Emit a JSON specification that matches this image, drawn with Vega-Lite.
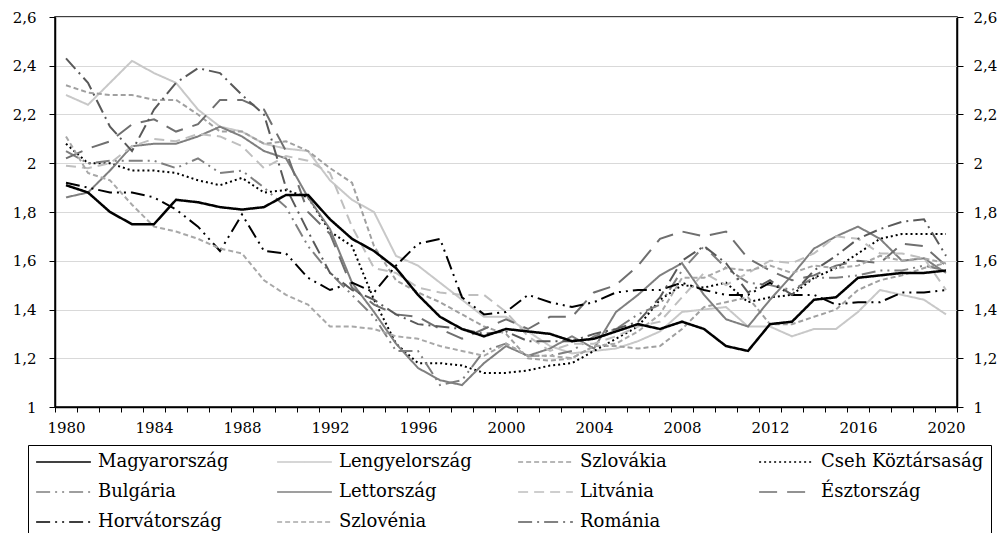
{
"$schema":"https://vega.github.io/schema/vega-lite/v6.json",
"width":902,"height":390,
"autosize":{"type":"none"},
"padding":{"left":55,"top":17,"right":47,"bottom":126},
"background":"#ffffff",
"config":{"view":{"stroke":"#000000","strokeWidth":1.5},"font":"DejaVu Serif"},
"data":{"values":[
{"country":"Magyarország","year":1980,"rate":1.91},{"country":"Magyarország","year":1981,"rate":1.88},{"country":"Magyarország","year":1982,"rate":1.80},{"country":"Magyarország","year":1983,"rate":1.75},{"country":"Magyarország","year":1984,"rate":1.75},{"country":"Magyarország","year":1985,"rate":1.85},{"country":"Magyarország","year":1986,"rate":1.84},{"country":"Magyarország","year":1987,"rate":1.82},{"country":"Magyarország","year":1988,"rate":1.81},{"country":"Magyarország","year":1989,"rate":1.82},
{"country":"Magyarország","year":1990,"rate":1.87},{"country":"Magyarország","year":1991,"rate":1.87},{"country":"Magyarország","year":1992,"rate":1.77},{"country":"Magyarország","year":1993,"rate":1.69},{"country":"Magyarország","year":1994,"rate":1.64},{"country":"Magyarország","year":1995,"rate":1.57},{"country":"Magyarország","year":1996,"rate":1.46},{"country":"Magyarország","year":1997,"rate":1.37},{"country":"Magyarország","year":1998,"rate":1.32},{"country":"Magyarország","year":1999,"rate":1.29},
{"country":"Magyarország","year":2000,"rate":1.32},{"country":"Magyarország","year":2001,"rate":1.31},{"country":"Magyarország","year":2002,"rate":1.30},{"country":"Magyarország","year":2003,"rate":1.27},{"country":"Magyarország","year":2004,"rate":1.28},{"country":"Magyarország","year":2005,"rate":1.31},{"country":"Magyarország","year":2006,"rate":1.34},{"country":"Magyarország","year":2007,"rate":1.32},{"country":"Magyarország","year":2008,"rate":1.35},{"country":"Magyarország","year":2009,"rate":1.32},
{"country":"Magyarország","year":2010,"rate":1.25},{"country":"Magyarország","year":2011,"rate":1.23},{"country":"Magyarország","year":2012,"rate":1.34},{"country":"Magyarország","year":2013,"rate":1.35},{"country":"Magyarország","year":2014,"rate":1.44},{"country":"Magyarország","year":2015,"rate":1.45},{"country":"Magyarország","year":2016,"rate":1.53},{"country":"Magyarország","year":2017,"rate":1.54},{"country":"Magyarország","year":2018,"rate":1.55},{"country":"Magyarország","year":2019,"rate":1.55},{"country":"Magyarország","year":2020,"rate":1.56},
{"country":"Lengyelország","year":1980,"rate":2.28},{"country":"Lengyelország","year":1981,"rate":2.24},{"country":"Lengyelország","year":1982,"rate":2.33},{"country":"Lengyelország","year":1983,"rate":2.42},{"country":"Lengyelország","year":1984,"rate":2.37},{"country":"Lengyelország","year":1985,"rate":2.33},{"country":"Lengyelország","year":1986,"rate":2.22},{"country":"Lengyelország","year":1987,"rate":2.15},{"country":"Lengyelország","year":1988,"rate":2.13},{"country":"Lengyelország","year":1989,"rate":2.08},
{"country":"Lengyelország","year":1990,"rate":2.06},{"country":"Lengyelország","year":1991,"rate":2.05},{"country":"Lengyelország","year":1992,"rate":1.93},{"country":"Lengyelország","year":1993,"rate":1.85},{"country":"Lengyelország","year":1994,"rate":1.80},{"country":"Lengyelország","year":1995,"rate":1.62},{"country":"Lengyelország","year":1996,"rate":1.58},{"country":"Lengyelország","year":1997,"rate":1.51},{"country":"Lengyelország","year":1998,"rate":1.44},{"country":"Lengyelország","year":1999,"rate":1.37},
{"country":"Lengyelország","year":2000,"rate":1.37},{"country":"Lengyelország","year":2001,"rate":1.31},{"country":"Lengyelország","year":2002,"rate":1.25},{"country":"Lengyelország","year":2003,"rate":1.22},{"country":"Lengyelország","year":2004,"rate":1.23},{"country":"Lengyelország","year":2005,"rate":1.24},{"country":"Lengyelország","year":2006,"rate":1.27},{"country":"Lengyelország","year":2007,"rate":1.31},{"country":"Lengyelország","year":2008,"rate":1.39},{"country":"Lengyelország","year":2009,"rate":1.40},
{"country":"Lengyelország","year":2010,"rate":1.41},{"country":"Lengyelország","year":2011,"rate":1.33},{"country":"Lengyelország","year":2012,"rate":1.33},{"country":"Lengyelország","year":2013,"rate":1.29},{"country":"Lengyelország","year":2014,"rate":1.32},{"country":"Lengyelország","year":2015,"rate":1.32},{"country":"Lengyelország","year":2016,"rate":1.39},{"country":"Lengyelország","year":2017,"rate":1.48},{"country":"Lengyelország","year":2018,"rate":1.46},{"country":"Lengyelország","year":2019,"rate":1.44},{"country":"Lengyelország","year":2020,"rate":1.38},
{"country":"Szlovákia","year":1980,"rate":2.32},{"country":"Szlovákia","year":1981,"rate":2.29},{"country":"Szlovákia","year":1982,"rate":2.28},{"country":"Szlovákia","year":1983,"rate":2.28},{"country":"Szlovákia","year":1984,"rate":2.26},{"country":"Szlovákia","year":1985,"rate":2.26},{"country":"Szlovákia","year":1986,"rate":2.20},{"country":"Szlovákia","year":1987,"rate":2.13},{"country":"Szlovákia","year":1988,"rate":2.13},{"country":"Szlovákia","year":1989,"rate":2.08},
{"country":"Szlovákia","year":1990,"rate":2.09},{"country":"Szlovákia","year":1991,"rate":2.05},{"country":"Szlovákia","year":1992,"rate":1.98},{"country":"Szlovákia","year":1993,"rate":1.92},{"country":"Szlovákia","year":1994,"rate":1.66},{"country":"Szlovákia","year":1995,"rate":1.52},{"country":"Szlovákia","year":1996,"rate":1.47},{"country":"Szlovákia","year":1997,"rate":1.43},{"country":"Szlovákia","year":1998,"rate":1.38},{"country":"Szlovákia","year":1999,"rate":1.33},
{"country":"Szlovákia","year":2000,"rate":1.30},{"country":"Szlovákia","year":2001,"rate":1.20},{"country":"Szlovákia","year":2002,"rate":1.19},{"country":"Szlovákia","year":2003,"rate":1.20},{"country":"Szlovákia","year":2004,"rate":1.25},{"country":"Szlovákia","year":2005,"rate":1.25},{"country":"Szlovákia","year":2006,"rate":1.24},{"country":"Szlovákia","year":2007,"rate":1.25},{"country":"Szlovákia","year":2008,"rate":1.32},{"country":"Szlovákia","year":2009,"rate":1.41},
{"country":"Szlovákia","year":2010,"rate":1.43},{"country":"Szlovákia","year":2011,"rate":1.45},{"country":"Szlovákia","year":2012,"rate":1.34},{"country":"Szlovákia","year":2013,"rate":1.34},{"country":"Szlovákia","year":2014,"rate":1.37},{"country":"Szlovákia","year":2015,"rate":1.40},{"country":"Szlovákia","year":2016,"rate":1.48},{"country":"Szlovákia","year":2017,"rate":1.52},{"country":"Szlovákia","year":2018,"rate":1.54},{"country":"Szlovákia","year":2019,"rate":1.57},{"country":"Szlovákia","year":2020,"rate":1.59},
{"country":"Cseh Köztársaság","year":1980,"rate":2.08},{"country":"Cseh Köztársaság","year":1981,"rate":2.00},{"country":"Cseh Köztársaság","year":1982,"rate":2.00},{"country":"Cseh Köztársaság","year":1983,"rate":1.97},{"country":"Cseh Köztársaság","year":1984,"rate":1.97},{"country":"Cseh Köztársaság","year":1985,"rate":1.96},{"country":"Cseh Köztársaság","year":1986,"rate":1.93},{"country":"Cseh Köztársaság","year":1987,"rate":1.91},{"country":"Cseh Köztársaság","year":1988,"rate":1.94},{"country":"Cseh Köztársaság","year":1989,"rate":1.88},
{"country":"Cseh Köztársaság","year":1990,"rate":1.89},{"country":"Cseh Köztársaság","year":1991,"rate":1.86},{"country":"Cseh Köztársaság","year":1992,"rate":1.72},{"country":"Cseh Köztársaság","year":1993,"rate":1.66},{"country":"Cseh Köztársaság","year":1994,"rate":1.44},{"country":"Cseh Köztársaság","year":1995,"rate":1.26},{"country":"Cseh Köztársaság","year":1996,"rate":1.18},{"country":"Cseh Köztársaság","year":1997,"rate":1.18},{"country":"Cseh Köztársaság","year":1998,"rate":1.17},{"country":"Cseh Köztársaság","year":1999,"rate":1.14},
{"country":"Cseh Köztársaság","year":2000,"rate":1.14},{"country":"Cseh Köztársaság","year":2001,"rate":1.15},{"country":"Cseh Köztársaság","year":2002,"rate":1.17},{"country":"Cseh Köztársaság","year":2003,"rate":1.18},{"country":"Cseh Köztársaság","year":2004,"rate":1.23},{"country":"Cseh Köztársaság","year":2005,"rate":1.28},{"country":"Cseh Köztársaság","year":2006,"rate":1.33},{"country":"Cseh Köztársaság","year":2007,"rate":1.44},{"country":"Cseh Köztársaság","year":2008,"rate":1.50},{"country":"Cseh Köztársaság","year":2009,"rate":1.49},
{"country":"Cseh Köztársaság","year":2010,"rate":1.51},{"country":"Cseh Köztársaság","year":2011,"rate":1.43},{"country":"Cseh Köztársaság","year":2012,"rate":1.45},{"country":"Cseh Köztársaság","year":2013,"rate":1.46},{"country":"Cseh Köztársaság","year":2014,"rate":1.53},{"country":"Cseh Köztársaság","year":2015,"rate":1.57},{"country":"Cseh Köztársaság","year":2016,"rate":1.63},{"country":"Cseh Köztársaság","year":2017,"rate":1.69},{"country":"Cseh Köztársaság","year":2018,"rate":1.71},{"country":"Cseh Köztársaság","year":2019,"rate":1.71},{"country":"Cseh Köztársaság","year":2020,"rate":1.71},
{"country":"Bulgária","year":1980,"rate":2.05},{"country":"Bulgária","year":1981,"rate":2.00},{"country":"Bulgária","year":1982,"rate":2.01},{"country":"Bulgária","year":1983,"rate":2.01},{"country":"Bulgária","year":1984,"rate":2.01},{"country":"Bulgária","year":1985,"rate":1.98},{"country":"Bulgária","year":1986,"rate":2.02},{"country":"Bulgária","year":1987,"rate":1.96},{"country":"Bulgária","year":1988,"rate":1.97},{"country":"Bulgária","year":1989,"rate":1.90},
{"country":"Bulgária","year":1990,"rate":1.82},{"country":"Bulgária","year":1991,"rate":1.66},{"country":"Bulgária","year":1992,"rate":1.55},{"country":"Bulgária","year":1993,"rate":1.46},{"country":"Bulgária","year":1994,"rate":1.37},{"country":"Bulgária","year":1995,"rate":1.23},{"country":"Bulgária","year":1996,"rate":1.23},{"country":"Bulgária","year":1997,"rate":1.09},{"country":"Bulgária","year":1998,"rate":1.11},{"country":"Bulgária","year":1999,"rate":1.23},
{"country":"Bulgária","year":2000,"rate":1.26},{"country":"Bulgária","year":2001,"rate":1.21},{"country":"Bulgária","year":2002,"rate":1.21},{"country":"Bulgária","year":2003,"rate":1.23},{"country":"Bulgária","year":2004,"rate":1.29},{"country":"Bulgária","year":2005,"rate":1.32},{"country":"Bulgária","year":2006,"rate":1.38},{"country":"Bulgária","year":2007,"rate":1.42},{"country":"Bulgária","year":2008,"rate":1.56},{"country":"Bulgária","year":2009,"rate":1.66},
{"country":"Bulgária","year":2010,"rate":1.57},{"country":"Bulgária","year":2011,"rate":1.51},{"country":"Bulgária","year":2012,"rate":1.50},{"country":"Bulgária","year":2013,"rate":1.48},{"country":"Bulgária","year":2014,"rate":1.53},{"country":"Bulgária","year":2015,"rate":1.53},{"country":"Bulgária","year":2016,"rate":1.54},{"country":"Bulgária","year":2017,"rate":1.56},{"country":"Bulgária","year":2018,"rate":1.56},{"country":"Bulgária","year":2019,"rate":1.58},{"country":"Bulgária","year":2020,"rate":1.56},
{"country":"Lettország","year":1980,"rate":1.86},{"country":"Lettország","year":1981,"rate":1.88},{"country":"Lettország","year":1982,"rate":1.97},{"country":"Lettország","year":1983,"rate":2.07},{"country":"Lettország","year":1984,"rate":2.08},{"country":"Lettország","year":1985,"rate":2.08},{"country":"Lettország","year":1986,"rate":2.11},{"country":"Lettország","year":1987,"rate":2.15},{"country":"Lettország","year":1988,"rate":2.11},{"country":"Lettország","year":1989,"rate":2.05},
{"country":"Lettország","year":1990,"rate":2.02},{"country":"Lettország","year":1991,"rate":1.86},{"country":"Lettország","year":1992,"rate":1.73},{"country":"Lettország","year":1993,"rate":1.51},{"country":"Lettország","year":1994,"rate":1.39},{"country":"Lettország","year":1995,"rate":1.26},{"country":"Lettország","year":1996,"rate":1.16},{"country":"Lettország","year":1997,"rate":1.11},{"country":"Lettország","year":1998,"rate":1.09},{"country":"Lettország","year":1999,"rate":1.18},
{"country":"Lettország","year":2000,"rate":1.25},{"country":"Lettország","year":2001,"rate":1.21},{"country":"Lettország","year":2002,"rate":1.24},{"country":"Lettország","year":2003,"rate":1.29},{"country":"Lettország","year":2004,"rate":1.24},{"country":"Lettország","year":2005,"rate":1.39},{"country":"Lettország","year":2006,"rate":1.46},{"country":"Lettország","year":2007,"rate":1.54},{"country":"Lettország","year":2008,"rate":1.59},{"country":"Lettország","year":2009,"rate":1.46},
{"country":"Lettország","year":2010,"rate":1.36},{"country":"Lettország","year":2011,"rate":1.33},{"country":"Lettország","year":2012,"rate":1.44},{"country":"Lettország","year":2013,"rate":1.54},{"country":"Lettország","year":2014,"rate":1.65},{"country":"Lettország","year":2015,"rate":1.70},{"country":"Lettország","year":2016,"rate":1.74},{"country":"Lettország","year":2017,"rate":1.69},{"country":"Lettország","year":2018,"rate":1.60},{"country":"Lettország","year":2019,"rate":1.61},{"country":"Lettország","year":2020,"rate":1.55},
{"country":"Litvánia","year":1980,"rate":1.99},{"country":"Litvánia","year":1981,"rate":1.98},{"country":"Litvánia","year":1982,"rate":2.00},{"country":"Litvánia","year":1983,"rate":2.07},{"country":"Litvánia","year":1984,"rate":2.10},{"country":"Litvánia","year":1985,"rate":2.09},{"country":"Litvánia","year":1986,"rate":2.12},{"country":"Litvánia","year":1987,"rate":2.11},{"country":"Litvánia","year":1988,"rate":2.07},{"country":"Litvánia","year":1989,"rate":1.98},
{"country":"Litvánia","year":1990,"rate":2.03},{"country":"Litvánia","year":1991,"rate":2.01},{"country":"Litvánia","year":1992,"rate":1.96},{"country":"Litvánia","year":1993,"rate":1.74},{"country":"Litvánia","year":1994,"rate":1.57},{"country":"Litvánia","year":1995,"rate":1.55},{"country":"Litvánia","year":1996,"rate":1.49},{"country":"Litvánia","year":1997,"rate":1.47},{"country":"Litvánia","year":1998,"rate":1.46},{"country":"Litvánia","year":1999,"rate":1.46},
{"country":"Litvánia","year":2000,"rate":1.39},{"country":"Litvánia","year":2001,"rate":1.29},{"country":"Litvánia","year":2002,"rate":1.23},{"country":"Litvánia","year":2003,"rate":1.26},{"country":"Litvánia","year":2004,"rate":1.26},{"country":"Litvánia","year":2005,"rate":1.29},{"country":"Litvánia","year":2006,"rate":1.33},{"country":"Litvánia","year":2007,"rate":1.35},{"country":"Litvánia","year":2008,"rate":1.45},{"country":"Litvánia","year":2009,"rate":1.55},
{"country":"Litvánia","year":2010,"rate":1.50},{"country":"Litvánia","year":2011,"rate":1.55},{"country":"Litvánia","year":2012,"rate":1.60},{"country":"Litvánia","year":2013,"rate":1.59},{"country":"Litvánia","year":2014,"rate":1.63},{"country":"Litvánia","year":2015,"rate":1.70},{"country":"Litvánia","year":2016,"rate":1.69},{"country":"Litvánia","year":2017,"rate":1.63},{"country":"Litvánia","year":2018,"rate":1.63},{"country":"Litvánia","year":2019,"rate":1.61},{"country":"Litvánia","year":2020,"rate":1.48},
{"country":"Észtország","year":1980,"rate":2.02},{"country":"Észtország","year":1981,"rate":2.06},{"country":"Észtország","year":1982,"rate":2.09},{"country":"Észtország","year":1983,"rate":2.16},{"country":"Észtország","year":1984,"rate":2.18},{"country":"Észtország","year":1985,"rate":2.13},{"country":"Észtország","year":1986,"rate":2.16},{"country":"Észtország","year":1987,"rate":2.26},{"country":"Észtország","year":1988,"rate":2.26},{"country":"Észtország","year":1989,"rate":2.22},
{"country":"Észtország","year":1990,"rate":2.05},{"country":"Észtország","year":1991,"rate":1.80},{"country":"Észtország","year":1992,"rate":1.71},{"country":"Észtország","year":1993,"rate":1.49},{"country":"Észtország","year":1994,"rate":1.42},{"country":"Észtország","year":1995,"rate":1.38},{"country":"Észtország","year":1996,"rate":1.37},{"country":"Észtország","year":1997,"rate":1.32},{"country":"Észtország","year":1998,"rate":1.28},{"country":"Észtország","year":1999,"rate":1.32},
{"country":"Észtország","year":2000,"rate":1.36},{"country":"Észtország","year":2001,"rate":1.32},{"country":"Észtország","year":2002,"rate":1.37},{"country":"Észtország","year":2003,"rate":1.37},{"country":"Észtország","year":2004,"rate":1.47},{"country":"Észtország","year":2005,"rate":1.50},{"country":"Észtország","year":2006,"rate":1.58},{"country":"Észtország","year":2007,"rate":1.69},{"country":"Észtország","year":2008,"rate":1.72},{"country":"Észtország","year":2009,"rate":1.70},
{"country":"Észtország","year":2010,"rate":1.72},{"country":"Észtország","year":2011,"rate":1.61},{"country":"Észtország","year":2012,"rate":1.56},{"country":"Észtország","year":2013,"rate":1.52},{"country":"Észtország","year":2014,"rate":1.54},{"country":"Észtország","year":2015,"rate":1.58},{"country":"Észtország","year":2016,"rate":1.60},{"country":"Észtország","year":2017,"rate":1.59},{"country":"Észtország","year":2018,"rate":1.67},{"country":"Észtország","year":2019,"rate":1.66},{"country":"Észtország","year":2020,"rate":1.58},
{"country":"Horvátország","year":1980,"rate":1.92},{"country":"Horvátország","year":1981,"rate":1.90},{"country":"Horvátország","year":1982,"rate":1.88},{"country":"Horvátország","year":1983,"rate":1.88},{"country":"Horvátország","year":1984,"rate":1.86},{"country":"Horvátország","year":1985,"rate":1.81},{"country":"Horvátország","year":1986,"rate":1.74},{"country":"Horvátország","year":1987,"rate":1.64},{"country":"Horvátország","year":1988,"rate":1.79},{"country":"Horvátország","year":1989,"rate":1.64},
{"country":"Horvátország","year":1990,"rate":1.63},{"country":"Horvátország","year":1991,"rate":1.53},{"country":"Horvátország","year":1992,"rate":1.48},{"country":"Horvátország","year":1993,"rate":1.51},{"country":"Horvátország","year":1994,"rate":1.47},{"country":"Horvátország","year":1995,"rate":1.58},{"country":"Horvátország","year":1996,"rate":1.67},{"country":"Horvátország","year":1997,"rate":1.69},{"country":"Horvátország","year":1998,"rate":1.45},{"country":"Horvátország","year":1999,"rate":1.38},
{"country":"Horvátország","year":2000,"rate":1.39},{"country":"Horvátország","year":2001,"rate":1.46},{"country":"Horvátország","year":2002,"rate":1.43},{"country":"Horvátország","year":2003,"rate":1.41},{"country":"Horvátország","year":2004,"rate":1.43},{"country":"Horvátország","year":2005,"rate":1.47},{"country":"Horvátország","year":2006,"rate":1.48},{"country":"Horvátország","year":2007,"rate":1.48},{"country":"Horvátország","year":2008,"rate":1.51},{"country":"Horvátország","year":2009,"rate":1.48},
{"country":"Horvátország","year":2010,"rate":1.46},{"country":"Horvátország","year":2011,"rate":1.46},{"country":"Horvátország","year":2012,"rate":1.51},{"country":"Horvátország","year":2013,"rate":1.46},{"country":"Horvátország","year":2014,"rate":1.46},{"country":"Horvátország","year":2015,"rate":1.42},{"country":"Horvátország","year":2016,"rate":1.43},{"country":"Horvátország","year":2017,"rate":1.43},{"country":"Horvátország","year":2018,"rate":1.47},{"country":"Horvátország","year":2019,"rate":1.47},{"country":"Horvátország","year":2020,"rate":1.48},
{"country":"Szlovénia","year":1980,"rate":2.11},{"country":"Szlovénia","year":1981,"rate":1.96},{"country":"Szlovénia","year":1982,"rate":1.93},{"country":"Szlovénia","year":1983,"rate":1.83},{"country":"Szlovénia","year":1984,"rate":1.74},{"country":"Szlovénia","year":1985,"rate":1.72},{"country":"Szlovénia","year":1986,"rate":1.69},{"country":"Szlovénia","year":1987,"rate":1.65},{"country":"Szlovénia","year":1988,"rate":1.63},{"country":"Szlovénia","year":1989,"rate":1.52},
{"country":"Szlovénia","year":1990,"rate":1.46},{"country":"Szlovénia","year":1991,"rate":1.42},{"country":"Szlovénia","year":1992,"rate":1.33},{"country":"Szlovénia","year":1993,"rate":1.33},{"country":"Szlovénia","year":1994,"rate":1.32},{"country":"Szlovénia","year":1995,"rate":1.29},{"country":"Szlovénia","year":1996,"rate":1.28},{"country":"Szlovénia","year":1997,"rate":1.25},{"country":"Szlovénia","year":1998,"rate":1.23},{"country":"Szlovénia","year":1999,"rate":1.21},
{"country":"Szlovénia","year":2000,"rate":1.26},{"country":"Szlovénia","year":2001,"rate":1.21},{"country":"Szlovénia","year":2002,"rate":1.21},{"country":"Szlovénia","year":2003,"rate":1.20},{"country":"Szlovénia","year":2004,"rate":1.25},{"country":"Szlovénia","year":2005,"rate":1.26},{"country":"Szlovénia","year":2006,"rate":1.31},{"country":"Szlovénia","year":2007,"rate":1.38},{"country":"Szlovénia","year":2008,"rate":1.53},{"country":"Szlovénia","year":2009,"rate":1.53},
{"country":"Szlovénia","year":2010,"rate":1.57},{"country":"Szlovénia","year":2011,"rate":1.56},{"country":"Szlovénia","year":2012,"rate":1.58},{"country":"Szlovénia","year":2013,"rate":1.55},{"country":"Szlovénia","year":2014,"rate":1.58},{"country":"Szlovénia","year":2015,"rate":1.57},{"country":"Szlovénia","year":2016,"rate":1.58},{"country":"Szlovénia","year":2017,"rate":1.62},{"country":"Szlovénia","year":2018,"rate":1.60},{"country":"Szlovénia","year":2019,"rate":1.61},{"country":"Szlovénia","year":2020,"rate":1.59},
{"country":"Románia","year":1980,"rate":2.43},{"country":"Románia","year":1981,"rate":2.33},{"country":"Románia","year":1982,"rate":2.15},{"country":"Románia","year":1983,"rate":2.05},{"country":"Románia","year":1984,"rate":2.22},{"country":"Románia","year":1985,"rate":2.33},{"country":"Románia","year":1986,"rate":2.39},{"country":"Románia","year":1987,"rate":2.37},{"country":"Románia","year":1988,"rate":2.28},{"country":"Románia","year":1989,"rate":2.20},
{"country":"Románia","year":1990,"rate":1.90},{"country":"Románia","year":1991,"rate":1.72},{"country":"Románia","year":1992,"rate":1.55},{"country":"Románia","year":1993,"rate":1.48},{"country":"Románia","year":1994,"rate":1.44},{"country":"Románia","year":1995,"rate":1.38},{"country":"Románia","year":1996,"rate":1.34},{"country":"Románia","year":1997,"rate":1.33},{"country":"Románia","year":1998,"rate":1.32},{"country":"Románia","year":1999,"rate":1.30},
{"country":"Románia","year":2000,"rate":1.31},{"country":"Románia","year":2001,"rate":1.27},{"country":"Románia","year":2002,"rate":1.27},{"country":"Románia","year":2003,"rate":1.27},{"country":"Románia","year":2004,"rate":1.30},{"country":"Románia","year":2005,"rate":1.32},{"country":"Románia","year":2006,"rate":1.35},{"country":"Románia","year":2007,"rate":1.45},{"country":"Románia","year":2008,"rate":1.60},{"country":"Románia","year":2009,"rate":1.66},
{"country":"Románia","year":2010,"rate":1.59},{"country":"Románia","year":2011,"rate":1.47},{"country":"Románia","year":2012,"rate":1.52},{"country":"Románia","year":2013,"rate":1.46},{"country":"Románia","year":2014,"rate":1.56},{"country":"Románia","year":2015,"rate":1.62},{"country":"Románia","year":2016,"rate":1.69},{"country":"Románia","year":2017,"rate":1.73},{"country":"Románia","year":2018,"rate":1.76},{"country":"Románia","year":2019,"rate":1.77},{"country":"Románia","year":2020,"rate":1.62}
]},
"encoding":{
"x":{"field":"year","type":"quantitative","scale":{"domain":[1979.5,2020.5],"nice":false,"zero":false},
"axis":{"title":null,"grid":false,"values":[1979.5,1980.5,1981.5,1982.5,1983.5,1984.5,1985.5,1986.5,1987.5,1988.5,1989.5,1990.5,1991.5,1992.5,1993.5,1994.5,1995.5,1996.5,1997.5,1998.5,1999.5,2000.5,2001.5,2002.5,2003.5,2004.5,2005.5,2006.5,2007.5,2008.5,2009.5,2010.5,2011.5,2012.5,2013.5,2014.5,2015.5,2016.5,2017.5,2018.5,2019.5,2020.5],
"labelExpr":"(datum.value + 0.5) % 4 == 0 ? format(datum.value + 0.5, 'd') : ''",
"labelOffset":11,"labelOverlap":false,"labelFlush":false,"labelFont":"DejaVu Serif","labelFontSize":15,"labelColor":"#000000","labelPadding":8,
"domainColor":"#000000","domainWidth":1.5,"tickColor":"#000000","tickSize":5,"tickWidth":1}},
"y":{"field":"rate","type":"quantitative","scale":{"domain":[1,2.6],"nice":false,"zero":false},"axis":null}
},
"layer":[
{"transform":[{"filter":"datum.country != 'Magyarország'"}],
"mark":{"type":"line","strokeJoin":"miter"},
"encoding":{
"y":{"field":"rate","type":"quantitative","axis":{"orient":"left","title":null,"values":[1,1.2,1.4,1.6,1.8,2,2.2,2.4,2.6],"labelExpr":"replace(format(datum.value,'~g'),'.',',')","grid":true,"gridColor":"#d9d9d9","gridWidth":1,"labelFont":"DejaVu Serif","labelFontSize":15,"labelColor":"#000000","labelPadding":13,"domainColor":"#000000","domainWidth":1.5,"tickColor":"#000000","tickSize":6}},
"color":{"field":"country","type":"nominal","scale":{"domain":["Magyarország","Lengyelország","Szlovákia","Cseh Köztársaság","Bulgária","Lettország","Litvánia","Észtország","Horvátország","Szlovénia","Románia"],"range":["#000000","#c8c8c8","#a0a0a0","#000000","#7f7f7f","#7f7f7f","#bfbfbf","#6f6f6f","#000000","#a8a8a8","#595959"]},
"legend":{"title":null,"orient":"none","legendX":-27,"legendY":428,"direction":"horizontal","columns":4,"gridAlign":"all","symbolType":"stroke","symbolSize":3000,"clipHeight":20,"labelFont":"DejaVu Serif","labelFontSize":18,"labelColor":"#000000","labelLimit":300,"labelOffset":6,"columnPadding":15,"rowPadding":10,"padding":7,"strokeColor":"#000000","fillColor":"#ffffff"}},
"strokeDash":{"field":"country","type":"nominal","scale":{"domain":["Magyarország","Lengyelország","Szlovákia","Cseh Köztársaság","Bulgária","Lettország","Litvánia","Észtország","Horvátország","Szlovénia","Románia"],"range":[[1,0],[1,0],[5,3],[2,3],[14,5,2,5,2,5],[1,0],[10,6],[18,10],[14,5,2,5,2,5],[5,3],[14,5,2,5]]}},
"strokeWidth":{"field":"country","type":"nominal","scale":{"type":"ordinal","domain":["Magyarország","Lengyelország","Szlovákia","Cseh Köztársaság","Bulgária","Lettország","Litvánia","Észtország","Horvátország","Szlovénia","Románia"],"range":[3,2,2,2,2,2,2,2,2,2,2]}}
}},
{"transform":[{"filter":"datum.country == 'Magyarország'"}],
"mark":{"type":"line","strokeJoin":"miter"},
"encoding":{
"color":{"field":"country","type":"nominal"},
"strokeDash":{"field":"country","type":"nominal"},
"strokeWidth":{"field":"country","type":"nominal"}
}},
{"mark":{"type":"point","opacity":0},
"encoding":{"y":{"field":"rate","type":"quantitative","axis":{"orient":"right","title":null,"values":[1,1.2,1.4,1.6,1.8,2,2.2,2.4,2.6],"labelExpr":"replace(format(datum.value,'~g'),'.',',')","grid":false,"labelFont":"DejaVu Serif","labelFontSize":15,"labelColor":"#000000","labelPadding":10,"domainColor":"#000000","domainWidth":1.5,"tickColor":"#000000","tickSize":6}}}}
],
"resolve":{"axis":{"y":"independent"}}
}
